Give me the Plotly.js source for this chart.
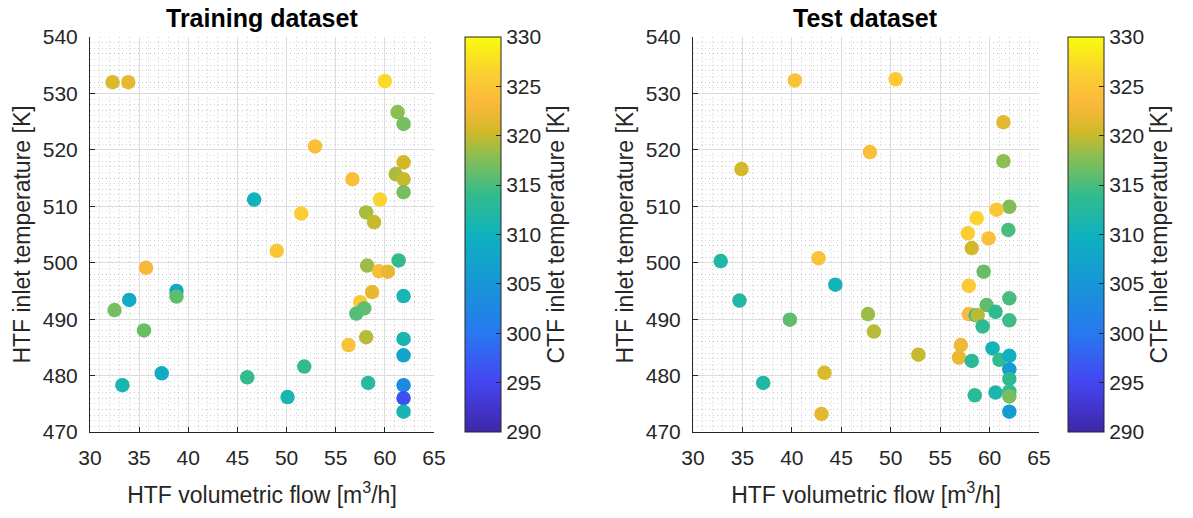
<!DOCTYPE html>
<html>
<head>
<meta charset="utf-8">
<script src="https://cdn.plot.ly/plotly-3.0.1.min.js"></script>
<style>html,body{margin:0;padding:0;background:#fff;}#chart{width:1193px;height:518px;}</style>
</head>
<body>
<div id="chart"></div>
<script>
// Training dataset
const trainFlow = [32.3,33.9,46.7,60.0,61.3,61.9,52.9,61.9,61.1,61.9,61.9,56.7,59.5,51.5,58.1,58.9,49.0,35.7,38.8,38.8,34.0,32.5,35.5,37.3,33.3,46.0,50.1,61.4,58.2,59.4,60.3,61.9,58.7,57.5,57.9,57.1,58.1,56.3,61.9,61.9,51.8,58.3,61.9,61.9,61.9];
const trainTemp = [532.0,532.0,511.2,532.2,526.7,524.6,520.6,517.8,515.7,514.8,512.5,514.8,511.2,508.7,508.9,507.2,502.1,499.1,495.0,494.0,493.4,491.6,488.0,480.4,478.3,479.7,476.2,500.4,499.5,498.5,498.4,494.1,494.8,493.0,491.9,491.0,486.8,485.4,486.5,483.6,481.6,478.7,478.3,476.0,473.6];
const trainCTF  = [321,322,310,327,318,317,324,320.5,319,320,317,324,326.5,326,319,320,325,323,308,316,308.5,317,316.5,309,311,314,311,314,318.5,324,322,311,322,325.5,316,315.5,319.5,324.5,311,307.5,314,313,303,296,311];

// Test dataset
const testFlow = [40.3,50.5,47.9,34.9,61.4,61.4,62.0,60.7,58.7,57.8,59.9,61.9,32.8,42.7,44.4,34.7,39.8,47.7,48.3,37.1,43.3,43.0,58.2,59.4,57.9,62.0,59.7,60.6,57.9,58.6,58.8,62.0,59.3,57.1,56.9,52.8,58.2,60.3,61.0,62.0,62.0,62.0,60.6,58.5,62.0,62.0,62.0];
const testTemp = [532.3,532.5,519.6,516.6,524.9,518.0,509.9,509.4,507.9,505.2,504.3,505.8,500.3,500.8,496.1,493.3,489.9,490.9,487.8,478.7,480.5,473.2,502.6,498.4,495.9,493.7,492.5,491.3,490.9,490.7,490.7,489.8,488.7,485.4,483.2,483.7,482.6,484.8,482.8,483.5,481.1,479.4,477.0,476.5,477.2,476.3,473.6];
const testCTF  = [324.5,325.5,324,320.5,321.5,318,317.5,325,326.5,326,324,315,312,324.5,310.5,312,316,318.5,319.5,312,321,321.5,320.5,316.5,325.5,315,316,313.5,323.5,314,319.5,314.5,313.5,322.5,322,320,313,310.5,314,309.5,306,313.5,311.5,313,314,317,306];

const xTicks = [30,35,40,45,50,55,60,65];
const yTicks = [470,480,490,500,510,520,530,540];
const cTicks = [290,295,300,305,310,315,320,325,330];

const parula = [
  [0.0,'rgb(62,38,168)'],
  [0.125,'rgb(68,70,240)'],
  [0.25,'rgb(40,120,240)'],
  [0.375,'rgb(22,150,215)'],
  [0.5,'rgb(16,178,190)'],
  [0.6,'rgb(50,188,140)'],
  [0.7,'rgb(140,190,80)'],
  [0.76,'rgb(210,185,40)'],
  [0.83,'rgb(250,184,60)'],
  [0.9,'rgb(250,205,50)'],
  [1.0,'rgb(249,251,14)']
];

const FONT = 'Liberation Sans, Arial, Helvetica, sans-serif';
const DARK = '#262626';
const TICK = 21, LAB = 23;

function xAxis(domain){
  return {
    domain: domain, range:[30,65], tickvals:xTicks, ticks:'inside', ticklen:5, tickcolor:DARK,
    showline:true, linecolor:DARK, linewidth:1, mirror:false,
    showgrid:true, gridcolor:'#dcdcdc', gridwidth:1, zeroline:false,
    minor:{dtick:1, tick0:30, showgrid:true, gridcolor:'#cfcfcf', griddash:'1px,3px', gridwidth:1},
    tickfont:{family:FONT,size:TICK,color:DARK}, ticklabelstandoff:7,
    title:{text:'HTF volumetric flow [m<sup>3</sup>/h]', font:{family:FONT,size:LAB,color:DARK}, standoff:18}
  };
}
function yAxis(){
  return {
    domain:[0.166,0.9286], range:[470,540], tickvals:yTicks, ticks:'inside', ticklen:5, tickcolor:DARK,
    showline:true, linecolor:DARK, linewidth:1, mirror:false,
    showgrid:true, gridcolor:'#dcdcdc', gridwidth:1, zeroline:false,
    minor:{dtick:1, tick0:470, showgrid:true, gridcolor:'#cfcfcf', griddash:'1px,3px', gridwidth:1},
    tickfont:{family:FONT,size:TICK,color:DARK}, ticklabelstandoff:7,
    title:{text:'HTF inlet temperature [K]', font:{family:FONT,size:LAB,color:DARK}, standoff:5}
  };
}
function cbar(x){
  return {
    x:x, xanchor:'left', xpad:0, ypad:0, y:0.5473, yanchor:'middle',
    len:395, lenmode:'pixels', thickness:36, thicknessmode:'pixels',
    outlinewidth:1, outlinecolor:DARK,
    tickvals:cTicks, ticks:'inside', ticklen:5, tickcolor:DARK,
    tickfont:{family:FONT,size:TICK,color:DARK},
    title:{text:'CTF inlet temperature [K]', side:'right', font:{family:FONT,size:LAB,color:DARK}}
  };
}

const data = [
  {type:'scatter', mode:'markers', x:trainFlow, y:trainTemp, xaxis:'x', yaxis:'y',
   marker:{size:14.5, color:trainCTF, coloraxis:'coloraxis'}, hoverinfo:'x+y'},
  {type:'scatter', mode:'markers', x:testFlow, y:testTemp, xaxis:'x2', yaxis:'y2',
   marker:{size:14.5, color:testCTF, coloraxis:'coloraxis2'}, hoverinfo:'x+y'}
];

const y2 = yAxis(); y2.anchor='x2';
const y1 = yAxis(); y1.anchor='x';
const x1 = xAxis([0.0754,0.3638]); x1.anchor='y';
const x2 = xAxis([0.5809,0.8709]); x2.anchor='y2';

const layout = {
  width:1193, height:518, margin:{l:0,r:0,t:0,b:0},
  paper_bgcolor:'#fff', plot_bgcolor:'#fff', showlegend:false,
  font:{family:FONT,color:DARK},
  xaxis:x1, yaxis:y1, xaxis2:x2, yaxis2:y2,
  coloraxis:{cmin:290,cmax:330,colorscale:parula,colorbar:cbar(0.3898)},
  coloraxis2:{cmin:290,cmax:330,colorscale:parula,colorbar:cbar(0.8952)},
  annotations:[
    {text:'<b>Training dataset</b>', x:(0.0754+0.3638)/2, y:0.966, xref:'paper', yref:'paper', xanchor:'center', yanchor:'middle', showarrow:false, font:{family:FONT,size:25,color:'#000'}},
    {text:'<b>Test dataset</b>', x:(0.5809+0.8709)/2, y:0.966, xref:'paper', yref:'paper', xanchor:'center', yanchor:'middle', showarrow:false, font:{family:FONT,size:25,color:'#000'}}
  ]
};

Plotly.newPlot('chart', data, layout, {displayModeBar:false, staticPlot:true});
</script>
</body>
</html>
